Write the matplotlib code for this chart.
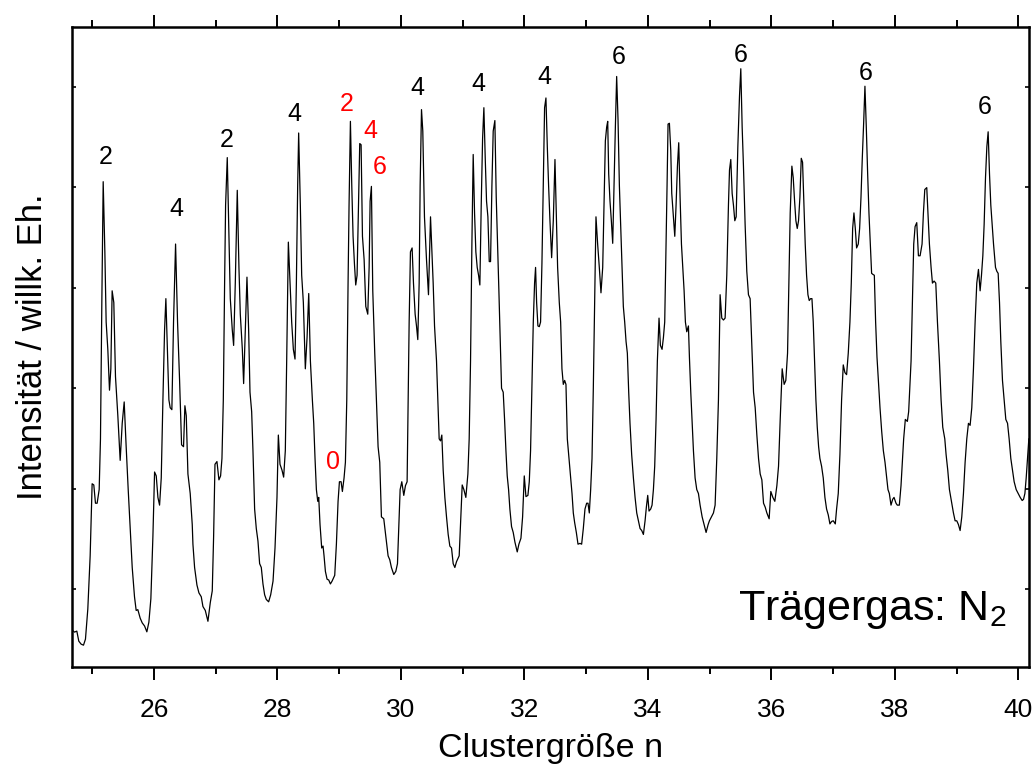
import matplotlib
matplotlib.use("Agg")
import matplotlib.pyplot as plt
from matplotlib.ticker import MultipleLocator, NullFormatter

plt.rcParams['font.family'] = ['Liberation Sans', 'DejaVu Sans']
plt.rcParams['mathtext.fontset'] = 'custom'
plt.rcParams['mathtext.rm'] = 'Liberation Sans'
plt.rcParams['mathtext.it'] = 'Liberation Sans'

# Cluster size n (x) and intensity in arbitrary units (y)
cluster_n = [
    24.661, 24.715, 24.753, 24.785, 24.823, 24.861, 24.893, 24.931, 24.969, 25.001,
    25.028, 25.055, 25.082, 25.115, 25.136, 25.158, 25.180, 25.207, 25.228, 25.255,
    25.282, 25.304, 25.325, 25.352, 25.379, 25.417, 25.455, 25.488, 25.520, 25.552,
    25.585, 25.617, 25.650, 25.687, 25.714, 25.741, 25.779, 25.812, 25.850, 25.887,
    25.920, 25.952, 25.985, 26.012, 26.039, 26.066, 26.093, 26.120, 26.147, 26.174,
    26.195, 26.222, 26.244, 26.265, 26.292, 26.319, 26.352, 26.384, 26.417, 26.449,
    26.481, 26.503, 26.525, 26.552, 26.589, 26.622,
    26.633, 26.660, 26.698, 26.730, 26.768, 26.795, 26.833, 26.876, 26.914, 26.946,
    26.968, 26.990, 27.022, 27.054, 27.081, 27.103, 27.125, 27.146, 27.162, 27.189,
    27.216, 27.238, 27.270, 27.292, 27.319, 27.351, 27.378, 27.400, 27.433, 27.454,
    27.481, 27.508, 27.535, 27.557, 27.584, 27.605, 27.632, 27.659, 27.686, 27.713,
    27.740, 27.767, 27.794, 27.821, 27.859, 27.892, 27.930, 27.962, 27.994, 28.016,
    28.043, 28.075, 28.102, 28.129, 28.151, 28.178, 28.205, 28.232, 28.259, 28.286,
    28.308, 28.329, 28.345, 28.372, 28.394, 28.421, 28.453, 28.481, 28.508, 28.535,
    28.567,
    28.589, 28.610, 28.632, 28.654, 28.670, 28.691, 28.718, 28.740, 28.756, 28.778,
    28.805, 28.832, 28.859, 28.886, 28.929, 28.956, 28.983, 29.005, 29.032, 29.053,
    29.080, 29.102, 29.124, 29.145, 29.161, 29.183, 29.205, 29.226, 29.248, 29.269,
    29.291, 29.313, 29.334, 29.356, 29.378, 29.405, 29.432, 29.464, 29.486, 29.502,
    29.523, 29.545, 29.577, 29.604, 29.631, 29.658, 29.685, 29.723, 29.756, 29.793,
    29.820, 29.847, 29.885, 29.918, 29.945, 29.966, 29.988, 30.015, 30.047, 30.074,
    30.101, 30.118, 30.134, 30.155, 30.182, 30.204, 30.231, 30.253, 30.274, 30.296,
    30.312, 30.334, 30.355, 30.382, 30.415, 30.447, 30.480,
    30.523, 30.545, 30.577, 30.599, 30.620, 30.642, 30.663, 30.685, 30.712, 30.739,
    30.766, 30.793, 30.820, 30.847, 30.874, 30.901, 30.944, 30.971, 30.993, 31.020,
    31.052, 31.085, 31.106, 31.128, 31.150, 31.171, 31.193, 31.214, 31.236, 31.258,
    31.279, 31.301, 31.323, 31.344, 31.366, 31.387, 31.409, 31.431, 31.452, 31.474,
    31.495, 31.522, 31.544, 31.566, 31.587, 31.609, 31.630, 31.657, 31.679, 31.701,
    31.722, 31.744, 31.765, 31.792, 31.819, 31.847, 31.884, 31.911, 31.944, 31.971,
    31.998, 32.025, 32.057, 32.079, 32.100, 32.122, 32.144, 32.165, 32.181, 32.198,
    32.219, 32.241, 32.262, 32.284, 32.306, 32.327, 32.349, 32.371, 32.392, 32.414,
    32.441, 32.468, 32.495, 32.517, 32.538, 32.565, 32.587, 32.608, 32.630, 32.652,
    32.673, 32.695, 32.722, 32.749, 32.771, 32.792, 32.814, 32.841, 32.868, 32.900,
    32.927, 32.954, 32.981, 33.008, 33.030, 33.051, 33.073, 33.095, 33.116, 33.138,
    33.159, 33.186, 33.213, 33.240, 33.268, 33.289, 33.311, 33.332, 33.349, 33.365,
    33.386, 33.408, 33.430, 33.451, 33.473, 33.494, 33.516, 33.538, 33.559, 33.581,
    33.602, 33.624, 33.646, 33.667, 33.689, 33.710, 33.737, 33.765, 33.792, 33.819,
    33.846, 33.873, 33.900, 33.927, 33.954, 33.975, 33.997, 34.018, 34.045, 34.067,
    34.089, 34.110, 34.132, 34.153, 34.180, 34.202, 34.229, 34.251, 34.272, 34.294,
    34.310, 34.326, 34.348, 34.370,
    34.386, 34.413, 34.435, 34.456, 34.478, 34.499, 34.521, 34.543, 34.564, 34.586,
    34.607, 34.629, 34.656, 34.672, 34.694, 34.716, 34.737, 34.764, 34.791, 34.818,
    34.845, 34.878, 34.910, 34.942, 34.975, 34.996, 35.029, 35.061, 35.088, 35.115,
    35.142, 35.169, 35.196, 35.223, 35.250, 35.277, 35.304, 35.321, 35.342, 35.364,
    35.385, 35.407, 35.429, 35.456, 35.483, 35.504, 35.526, 35.547, 35.574, 35.601,
    35.628, 35.655, 35.683, 35.710, 35.737, 35.764, 35.791, 35.818, 35.845, 35.872,
    35.899, 35.926, 35.963, 35.990, 36.023, 36.055, 36.088, 36.115, 36.142, 36.174,
    36.206, 36.233, 36.261, 36.282, 36.304, 36.331,
    36.353, 36.375, 36.396, 36.418, 36.439, 36.461, 36.483, 36.504, 36.526, 36.547,
    36.569, 36.591, 36.612, 36.634, 36.656, 36.677, 36.699, 36.720, 36.742, 36.764,
    36.785, 36.812, 36.839, 36.866, 36.893, 36.920, 36.947, 36.974, 37.001, 37.034,
    37.055, 37.082, 37.109, 37.136, 37.163, 37.190, 37.217, 37.244, 37.271, 37.293,
    37.315, 37.336, 37.358, 37.379, 37.406, 37.428, 37.450, 37.471, 37.493, 37.514,
    37.536, 37.558, 37.579, 37.601, 37.622, 37.644, 37.666, 37.687, 37.709, 37.731,
    37.758, 37.785, 37.812, 37.839, 37.866, 37.887, 37.909, 37.936, 37.963, 37.985,
    38.017, 38.038, 38.071, 38.098, 38.119, 38.141, 38.168, 38.201, 38.222,
    38.261, 38.283, 38.304, 38.326, 38.353, 38.380, 38.407, 38.439, 38.461, 38.483,
    38.515, 38.537, 38.558, 38.585, 38.607, 38.634, 38.661, 38.688, 38.720, 38.747,
    38.774, 38.807, 38.828, 38.855, 38.882, 38.915, 38.947, 38.974, 39.001, 39.028,
    39.055, 39.082, 39.109, 39.136, 39.163, 39.190, 39.217, 39.244, 39.271, 39.298,
    39.325, 39.352, 39.379, 39.401, 39.423, 39.444, 39.466, 39.488, 39.509, 39.531,
    39.552, 39.574, 39.596, 39.628, 39.650, 39.671, 39.693, 39.714, 39.741, 39.768,
    39.795, 39.823, 39.849, 39.876, 39.903, 39.930, 39.963, 39.995, 40.028, 40.060,
    40.082, 40.104, 40.125, 40.147, 40.168,
]

intensity = [
    60.0, 57.0, 58.0, 48.0, 45.0, 44.0, 50.0, 80.0, 133.0, 204.8,
    203.6, 185.4, 185.4, 199.0, 249.5, 385.3, 505.7, 435.8, 365.9, 338.7,
    298.0, 319.3, 397.0, 385.3, 311.6, 272.7, 228.1, 265.0, 286.3, 241.7,
    199.0, 160.2, 121.4, 92.2, 78.6, 79.4, 70.9, 66.2, 63.1, 57.3,
    67.0, 90.3, 152.4, 216.5, 212.6, 191.2, 183.5, 210.6, 288.3, 358.2,
    389.2, 334.9, 288.3, 280.5, 278.6, 365.9, 443.6, 365.9, 307.7, 243.6,
    241.7, 282.5, 272.7, 214.5, 195.1, 164.1,
    144.6, 121.4, 103.9, 96.1, 92.2, 82.5, 78.6, 67.8, 86.4, 98.1,
    152.4, 224.2, 226.9, 208.7, 212.6, 230.0, 288.3, 404.7, 482.4, 529.7,
    451.3, 389.2, 358.2, 342.6, 404.7, 497.1, 420.3, 373.7, 338.7, 304.6,
    358.2, 410.6, 358.2, 296.0, 276.6, 237.8, 179.6, 160.2, 147.7, 125.2,
    121.4, 105.0, 94.2, 89.5, 87.2, 94.2, 107.8, 140.8, 191.2, 253.3,
    224.2, 218.4, 211.4, 237.8, 327.1, 445.5, 404.7, 365.9, 338.7, 329.0,
    404.7, 501.8, 554.2, 482.4, 412.5, 385.3, 319.3, 350.4, 394.3, 327.1,
    288.3,
    265.0, 230.0, 199.0, 187.3, 191.2, 164.1, 140.8, 142.7, 133.0, 117.5,
    109.7, 108.9, 105.0, 107.8, 113.6, 144.6, 187.3, 206.8, 206.8, 197.1,
    210.6, 226.2, 288.3, 404.7, 482.4, 565.8, 501.8, 451.3, 424.1, 402.8,
    412.5, 482.4, 543.7, 542.5, 451.3, 428.0, 381.4, 373.7, 420.3, 486.3,
    501.0, 397.0, 334.9, 288.3, 241.7, 226.2, 171.8, 169.9, 152.4, 133.0,
    129.1, 121.4, 114.4, 117.5, 125.2, 160.2, 199.0, 206.8, 193.2, 202.9,
    206.8, 288.3, 365.9, 435.8, 439.7, 404.7, 373.7, 362.0, 348.4, 404.7,
    501.8, 577.5, 556.1, 470.7, 428.0, 393.1, 470.7,
    404.7, 362.0, 327.1, 288.3, 249.5, 247.5, 253.3, 218.4, 191.2, 171.8,
    154.3, 142.7, 140.8, 125.2, 121.4, 127.2, 133.0, 171.8, 203.6, 199.0,
    191.2, 214.5, 249.5, 327.1, 443.6, 532.8, 474.6, 435.8, 420.3, 412.5,
    402.8, 482.4, 548.4, 579.4, 529.0, 486.3, 470.7, 426.1, 426.1, 501.8,
    556.1, 566.6, 490.1, 443.6, 397.0, 346.5, 299.9, 296.0, 268.9, 237.8,
    212.6, 199.0, 179.6, 162.1, 156.3, 146.6, 136.9, 144.6, 150.5, 171.8,
    212.6, 192.0, 193.2, 206.8, 237.8, 299.9, 365.9, 404.7, 420.3, 385.3,
    362.0, 361.3, 365.9, 424.1, 501.8, 579.4, 589.1, 540.6, 501.8, 466.8,
    430.0, 466.8, 527.8, 474.6, 420.3, 385.3, 365.9, 319.3, 303.8, 307.7,
    303.8, 249.5, 230.0, 210.6, 195.1, 175.7, 166.0, 156.3, 144.6, 145.4,
    144.6, 160.2, 179.6, 185.4, 185.4, 175.7, 199.0, 230.0, 299.9, 385.3,
    470.7, 443.6, 420.3, 395.0, 420.3, 482.4, 546.4, 560.0, 565.8, 513.4,
    486.3, 466.8, 444.3, 501.8, 560.0, 610.5, 567.8, 501.8, 463.0, 420.3,
    381.4, 365.9, 346.5, 334.9, 296.0, 265.0, 233.9, 210.6, 191.2, 175.7,
    167.9, 160.2, 158.2, 154.3, 167.9, 181.5, 193.2, 177.6, 179.6, 183.5,
    199.0, 222.3, 268.9, 327.1, 369.8, 342.6, 338.7, 350.4, 365.9, 443.6,
    501.8, 563.1, 563.9, 536.7,
    494.0, 470.7, 451.3, 482.4, 521.2, 544.5, 490.1, 443.6, 420.3, 397.0,
    365.9, 356.2, 362.0, 331.0, 296.0, 265.0, 237.8, 210.6, 199.0, 195.1,
    183.5, 171.8, 164.1, 156.3, 164.1, 167.9, 171.8, 175.7, 183.5, 230.0,
    288.3, 393.1, 369.8, 367.9, 369.8, 412.5, 482.4, 517.3, 527.8, 494.0,
    482.4, 466.8, 470.7, 540.6, 591.1, 618.2, 560.0, 521.2, 463.0, 416.4,
    393.1, 389.2, 342.6, 296.0, 280.5, 253.3, 230.0, 214.5, 208.7, 185.4,
    181.5, 175.7, 169.9, 197.1, 191.2, 187.3, 202.9, 222.3, 268.9, 319.3,
    303.8, 307.7, 334.9, 404.7, 474.6, 521.2,
    509.6, 486.3, 466.8, 459.1, 466.8, 490.1, 529.0, 525.1, 482.4, 443.6,
    412.5, 393.1, 387.3, 389.2, 389.2, 365.9, 327.1, 288.3, 261.1, 241.7,
    230.0, 222.3, 210.6, 191.2, 179.6, 173.8, 164.8, 167.2, 167.9, 164.8,
    179.6, 195.1, 233.9, 288.3, 323.2, 315.5, 313.5, 334.9, 365.9, 404.7,
    459.1, 474.6, 459.1, 439.7, 443.6, 459.1, 490.1, 529.0, 563.9, 600.8,
    560.0, 513.4, 474.6, 443.6, 414.4, 413.3, 412.5, 365.9, 331.0, 307.7,
    280.5, 257.2, 237.8, 226.2, 210.6, 199.0, 195.1, 183.5, 189.3, 191.2,
    185.4, 183.5, 183.5, 202.9, 226.2, 249.5, 268.9, 266.9, 276.6,
    327.1, 385.3, 443.6, 461.0, 464.9, 431.9, 431.9, 443.6, 474.6, 497.9,
    499.8, 470.7, 443.6, 420.3, 404.7, 406.7, 404.7, 365.9, 327.1, 288.3,
    261.1, 249.5, 233.9, 218.4, 199.0, 187.3, 175.7, 167.9, 167.9, 164.1,
    158.2, 171.8, 195.1, 226.2, 249.5, 265.0, 263.0, 280.5, 319.3, 365.9,
    404.7, 418.3, 397.0, 412.5, 431.9, 463.0, 509.6, 540.6, 555.4, 513.4,
    482.4, 463.0, 443.6, 420.3, 416.4, 414.4, 385.3, 346.5, 307.7, 288.3,
    268.9, 265.0, 249.5, 230.0, 218.4, 206.8, 199.0, 195.1, 191.2, 188.1,
    189.3, 195.1, 210.6, 230.0, 249.5,
]

# Peak annotations: (n position, intensity position, label, colour)
label_n = [25.22, 26.37, 27.18, 28.28, 29.13, 29.50, 29.66, 28.90,
           30.27, 31.25, 32.33, 33.53, 35.51, 37.53, 39.45]
label_y = [530, 478, 547, 573, 583, 556, 520, 226,
           599, 603, 610, 630, 632, 614, 580]
label_txt = ['2', '4', '2', '4', '2', '4', '6', '0',
             '4', '4', '4', '6', '6', '6', '6']
label_col = ['black', 'black', 'black', 'black', 'red', 'red', 'red', 'red',
             'black', 'black', 'black', 'black', 'black', 'black', 'black']

x_major = [26, 28, 30, 32, 34, 36, 38, 40]

fig = plt.figure(figsize=(10.33, 7.69), dpi=100)
ax = fig.add_axes([0.0697, 0.1327, 0.9264, 0.8322])

ax.plot(cluster_n, intensity, color='black', lw=0.9)

ax.set_xlim(24.675, 40.17)
ax.set_ylim(22.3, 659.8)

ax.set_xticks(x_major)
ax.set_xticklabels([str(v) for v in x_major])
ax.xaxis.set_minor_locator(MultipleLocator(1))
ax.yaxis.set_major_locator(MultipleLocator(100))
ax.yaxis.set_major_formatter(NullFormatter())

ax.tick_params(axis='x', which='major', direction='out', length=9, width=1.4,
               top=True, bottom=True, labelsize=19, pad=13)
ax.tick_params(axis='x', which='minor', direction='out', length=5, width=1.4,
               top=True, bottom=True)
ax.tick_params(axis='y', which='major', direction='in', length=3, width=1.2,
               left=True, right=True)
for s in ax.spines.values():
    s.set_linewidth(1.8)

ax.set_xlabel('Clustergröße n', fontsize=24.5, labelpad=8)
ax.set_ylabel('Intensität / willk. Eh.', fontsize=25, labelpad=13)

for xn, yv, t, c in zip(label_n, label_y, label_txt, label_col):
    ax.text(xn, yv, t, color=c, fontsize=18, ha='center', va='center')

ax.text(0.977, 0.073, 'Trägergas: N$_2$', transform=ax.transAxes,
        fontsize=31, ha='right', va='baseline')

fig.savefig('out.png', dpi=100)
